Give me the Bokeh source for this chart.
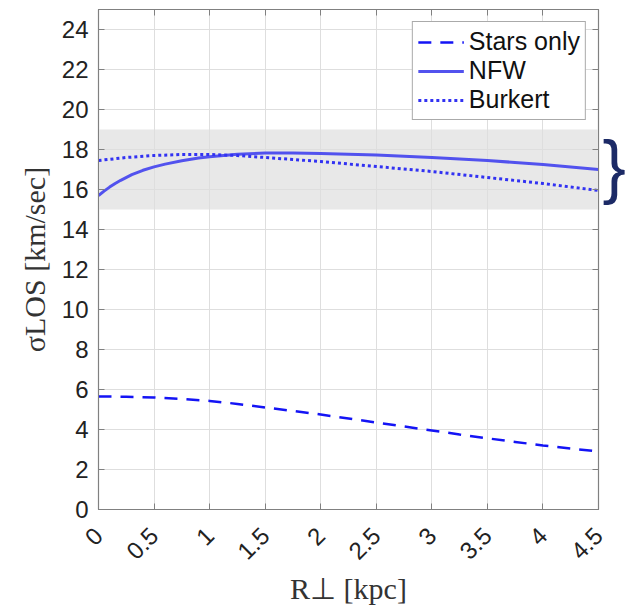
import math
from bokeh.plotting import figure
from bokeh.models import LinearAxis, Legend, LegendItem, FixedTicker, Range1d
from bokeh.embed import file_html
from bokeh.resources import INLINE

# ---- data ----
r_stars = [0, 0.25, 0.5, 0.75, 1.0, 1.25, 1.5, 1.75, 2.0, 2.25, 2.5, 2.75, 3.0, 3.25, 3.5, 3.75, 4.0, 4.25, 4.5]
sig_stars = [5.65, 5.64, 5.6, 5.53, 5.43, 5.28, 5.1, 4.93, 4.75, 4.55, 4.35, 4.15, 3.95, 3.75, 3.56, 3.38, 3.2, 3.05, 2.9]

r_nfw = [0, 0.05, 0.1, 0.15, 0.2, 0.3, 0.4, 0.5, 0.6, 0.75, 0.9, 1.0, 1.25, 1.5, 1.75, 2.0, 2.5, 3.0, 3.5, 4.0, 4.5]
sig_nfw = [15.7, 15.92, 16.12, 16.3, 16.46, 16.74, 16.96, 17.13, 17.27, 17.44, 17.57, 17.64, 17.76, 17.82, 17.83, 17.8, 17.72, 17.6, 17.45, 17.25, 17.0]

r_bur = [0, 0.25, 0.5, 0.75, 1.0, 1.25, 1.5, 1.75, 2.0, 2.5, 3.0, 3.5, 4.0, 4.5]
sig_bur = [17.45, 17.6, 17.7, 17.75, 17.75, 17.7, 17.6, 17.5, 17.4, 17.15, 16.9, 16.6, 16.3, 15.95]

band_low, band_high = 15.0, 19.0
brace_y = 17.2

x_ticks = [0, 0.5, 1, 1.5, 2, 2.5, 3, 3.5, 4, 4.5]
y_ticks = list(range(0, 25, 2))

x_label = "R⊥ [kpc]"
y_label = "σLOS [km/sec]"

SANS = "Liberation Sans"
SERIF = "Liberation Serif"
LABEL_COLOR = "#333333"

p = figure(width=625, height=606, output_backend="svg", toolbar_location=None,
           x_range=Range1d(0, 4.5), y_range=Range1d(0, 25),
           frame_width=500, frame_height=500,
           min_border_left=98, min_border_right=27, min_border_top=9, min_border_bottom=97)
p.background_fill_color = "white"
p.border_fill_color = "white"
p.outline_line_color = "#808080"
p.outline_line_width = 1.2

# gray band
p.quad(left=[0], right=[4.5], bottom=[band_low], top=[band_high],
       fill_color="#e8e8e8", line_color=None, level="image")

# grid
for g in (p.xgrid, p.ygrid):
    g.grid_line_color = "#dedede"
    g.grid_line_width = 1
p.xgrid.ticker = FixedTicker(ticks=x_ticks)
p.ygrid.ticker = FixedTicker(ticks=y_ticks)

# axes
def style_axis(ax, ticks, show_labels=True):
    ax.ticker = FixedTicker(ticks=ticks)
    ax.major_tick_in = 6
    ax.major_tick_out = 0
    ax.minor_tick_in = 0
    ax.minor_tick_out = 0
    ax.axis_line_color = "#808080"
    ax.major_tick_line_color = "#808080"
    ax.major_label_text_font = SANS
    ax.major_label_text_font_size = "24px"
    ax.major_label_text_color = "#222222"
    if not show_labels:
        ax.major_label_text_font_size = "0px"
        ax.major_label_text_alpha = 0
        ax.major_label_standoff = 0

style_axis(p.xaxis[0], x_ticks)
style_axis(p.yaxis[0], y_ticks)
p.xaxis[0].major_label_orientation = math.pi / 4
p.xaxis[0].major_label_standoff = 22
p.yaxis[0].major_label_standoff = 10

for ax, lab in ((p.xaxis[0], x_label), (p.yaxis[0], y_label)):
    ax.axis_label = lab
    ax.axis_label_text_font = SERIF
    ax.axis_label_text_font_style = "normal"
    ax.axis_label_text_font_size = "30px"
    ax.axis_label_text_color = LABEL_COLOR
p.xaxis[0].axis_label_standoff = 2
p.yaxis[0].axis_label_standoff = 8

top_ax = LinearAxis()
right_ax = LinearAxis()
style_axis(top_ax, x_ticks, False)
style_axis(right_ax, y_ticks, False)
p.add_layout(top_ax, "above")
p.add_layout(right_ax, "right")

# brace just outside the plot at the height of the band (tick label of a bare axis)
brace_ax = LinearAxis(ticker=FixedTicker(ticks=[brace_y]),
                      major_label_overrides={brace_y: "}"})
brace_ax.axis_line_color = None
brace_ax.major_tick_line_color = None
brace_ax.major_tick_in = 0
brace_ax.major_tick_out = 0
brace_ax.minor_tick_line_color = None
brace_ax.major_label_standoff = 4
brace_ax.major_label_text_font = SANS
brace_ax.major_label_text_font_size = "70px"
brace_ax.major_label_text_color = "#1c2a66"
p.add_layout(brace_ax, "right")

# lines
r1 = p.line(r_stars, sig_stars, line_color="#1414f5", line_width=2.5, line_dash="13 9")
r2 = p.line(r_nfw, sig_nfw, line_color="#5252ee", line_width=3)
r3 = p.line(r_bur, sig_bur, line_color="#3232f2", line_width=3, line_dash="3 3")

legend = Legend(items=[LegendItem(label="Stars only", renderers=[r1]),
                       LegendItem(label="NFW", renderers=[r2]),
                       LegendItem(label="Burkert", renderers=[r3])],
                location="top_right")
legend.label_text_font = SANS
legend.label_text_font_size = "25px"
legend.label_text_color = "#111111"
legend.glyph_width = 46
legend.glyph_height = 28
legend.label_height = 28
legend.spacing = 0
legend.padding = 5
legend.margin = 12
legend.label_standoff = 5
legend.border_line_color = "#555555"
legend.border_line_width = 1
legend.background_fill_alpha = 1
p.add_layout(legend)

open("out.html", "w").write(file_html(p, INLINE))
